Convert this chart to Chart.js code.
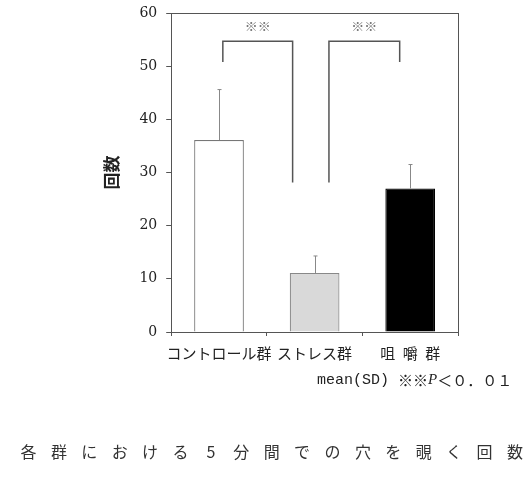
<!DOCTYPE html>
<html>
<head>
<meta charset="utf-8">
<script src="https://cdn.jsdelivr.net/npm/chart.js@4.4.1/dist/chart.umd.min.js"></script>
<style>
  html, body { margin: 0; padding: 0; background: #fff; }
  #wrap { width: 526px; height: 498px; }
</style>
</head>
<body>
<div id="wrap"><canvas id="chart"></canvas></div>
<script>
const groups = ['コントロール群', 'ストレス群', '咀\u2002嚼\u2002群'];
const means = [36.1, 11.1, 27.0];
const sds = [9.5, 3.2, 4.5];
const yTicks = [0, 10, 20, 30, 40, 50, 60];

// significance brackets: span in category units, top value, where each leg stops
const bracketSpan = [[0.04, 0.77], [1.15, 1.89]];
const bracketTop = [54.7, 54.7];
const bracketLegs = [[50.8, 28.1], [28.1, 50.8]];
const bracketMark = ['※※', '※※'];

const caption = '各群における5分間での穴を覗く回数';

const extras = {
  id: 'extras',
  afterDatasetsDraw(chart) {
    const { ctx, chartArea: a, scales: { x, y } } = chart;
    ctx.save();

    // upper SD whiskers
    ctx.strokeStyle = '#888';
    ctx.lineWidth = 1;
    means.forEach((m, i) => {
      const px = Math.round(x.getPixelForValue(i)) + 0.5;
      const top = y.getPixelForValue(m + sds[i]);
      const base = y.getPixelForValue(m);
      ctx.beginPath();
      ctx.moveTo(px, base);
      ctx.lineTo(px, top);
      ctx.moveTo(px - 2, top);
      ctx.lineTo(px + 2, top);
      ctx.stroke();
    });

    // brackets
    bracketSpan.forEach(([l, r], i) => {
      const xl = x.getPixelForValue(l), xr = x.getPixelForValue(r);
      const yt = y.getPixelForValue(bracketTop[i]);
      ctx.strokeStyle = '#555';
      ctx.lineWidth = 1.5;
      ctx.beginPath();
      ctx.moveTo(xl, y.getPixelForValue(bracketLegs[i][0]));
      ctx.lineTo(xl, yt);
      ctx.lineTo(xr, yt);
      ctx.lineTo(xr, y.getPixelForValue(bracketLegs[i][1]));
      ctx.stroke();
      ctx.fillStyle = '#777';
      ctx.font = '13px "Noto Sans CJK JP"';
      ctx.textAlign = 'center';
      ctx.textBaseline = 'middle';
      ctx.fillText(bracketMark[i], (xl + xr) / 2, yt - 15);
    });

    // frame
    ctx.strokeStyle = '#555';
    ctx.lineWidth = 1;
    ctx.strokeRect(Math.round(a.left) + 0.5, Math.round(a.top) + 0.5,
      Math.round(a.right - a.left), Math.round(a.bottom - a.top));
    ctx.restore();
  },
  afterDraw(chart) {
    const ctx = chart.ctx;
    ctx.save();
    ctx.fillStyle = '#222';
    ctx.textBaseline = 'middle';
    ctx.textAlign = 'left';
    const parts = [
      ['mean(SD) ', '15px "Liberation Mono"'],
      ['※※', '15px "Noto Sans CJK JP"'],
      ['P', 'italic 15px "Liberation Serif"'],
      ['＜０．０１', '15px "Noto Sans CJK JP"']
    ];
    let cx = 317;
    parts.forEach(([t, f]) => {
      ctx.font = f;
      ctx.fillText(t, cx, 380);
      cx += ctx.measureText(t).width;
    });

    ctx.fillStyle = '#333';
    ctx.textAlign = 'center';
    ctx.font = '16px "Noto Sans CJK JP"';
    Array.from(caption).forEach((ch, i) => {
      ctx.fillText(ch, 28.5 + i * 30.4, 452);
    });
    ctx.restore();
  }
};

new Chart(document.getElementById('chart'), {
  type: 'bar',
  data: {
    labels: groups,
    datasets: [{
      data: means,
      backgroundColor: ['#ffffff', '#d9d9d9', '#000000'],
      borderColor: ['#777', '#888', '#000'],
      borderWidth: 1.2,
      categoryPercentage: 1,
      barPercentage: 0.52
    }]
  },
  options: {
    responsive: true,
    maintainAspectRatio: false,
    animation: false,
    layout: { padding: { left: 87, right: 68, top: 13, bottom: 128 } },
    plugins: {
      legend: { display: false },
      tooltip: { enabled: false }
    },
    scales: {
      x: {
        grid: { drawOnChartArea: false, tickLength: 4, color: '#555' },
        border: { color: '#555' },
        ticks: {
          padding: 8,
          autoSkip: false,
          maxRotation: 0,
          minRotation: 0,
          color: '#222',
          font: { family: '"Noto Sans CJK JP"', size: 15 }
        }
      },
      y: {
        min: yTicks[0],
        max: yTicks[yTicks.length - 1],
        grid: { drawOnChartArea: false, tickLength: 5, color: '#555' },
        border: { color: '#555' },
        ticks: {
          stepSize: yTicks[1] - yTicks[0],
          padding: 9,
          color: '#222',
          font: { family: '"DejaVu Serif"', size: 14, lineHeight: 0.5 }
        },
        title: {
          display: true,
          text: '回数',
          color: '#222',
          font: { family: '"Noto Sans CJK JP"', size: 17, weight: 'bold' },
          padding: { top: 14, bottom: 9 }
        }
      }
    }
  },
  plugins: [extras]
});
</script>
</body>
</html>
